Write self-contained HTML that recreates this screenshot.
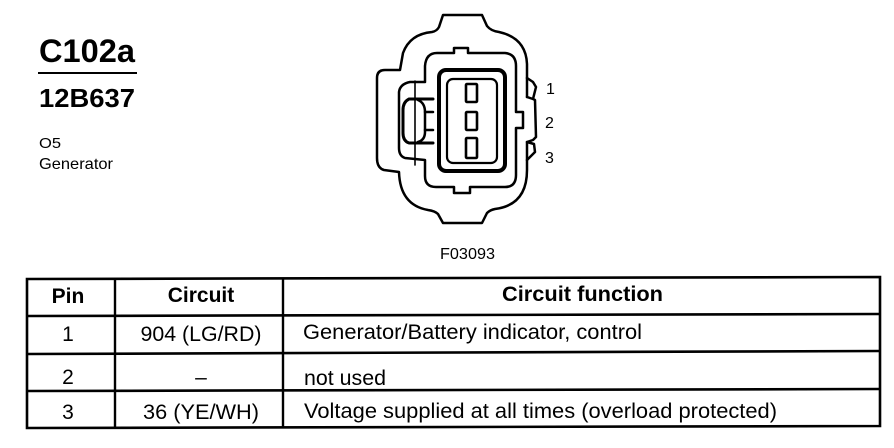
<!DOCTYPE html>
<html>
<head>
<meta charset="utf-8">
<style>
html,body{margin:0;padding:0;background:#fff;}
svg{display:block;}
text{font-family:"Liberation Sans",sans-serif;fill:#000;}
.b{font-weight:bold;}
</style>
</head>
<body>
<svg width="894" height="448" viewBox="0 0 894 448" xmlns="http://www.w3.org/2000/svg">
<rect width="894" height="448" fill="#fff"/>
<text x="39" y="62" class="b" font-size="32" textLength="96" lengthAdjust="spacingAndGlyphs">C102a</text>
<rect x="38" y="72" width="99" height="2" fill="#000"/>
<text x="39" y="107" class="b" font-size="26" textLength="96" lengthAdjust="spacingAndGlyphs">12B637</text>
<text x="39" y="148" font-size="15" textLength="22" lengthAdjust="spacingAndGlyphs">O5</text>
<text x="39" y="169" font-size="16" textLength="74" lengthAdjust="spacingAndGlyphs">Generator</text>

<g fill="none" stroke="#000" stroke-width="2.5" stroke-linejoin="round" stroke-linecap="round">
<path d="M527 142 L527 170 Q527 205 495 209 Q490 210 487 213 L482 223 L443 223 L438 214 Q435 211 428 210 Q400 205 399 172 L384 170 Q377 168 377 158 L377 78 Q377 70 385 70 L400 70 L403 53 Q410 34 432 32 Q437 31 439 27 L443 15 L482 15 L487 26 Q491 31 499 32 Q526 38 527 64 L527 97"/>
<path d="M527 78 L533 82 L536 87 L533 99 L527 97 M533 99 L535 100 L536 137 L533 140 L527 142 L534 144 L535 152 L527 160"/>
<path d="M454 53 L454 48 L468 48 L468 53 L505 53 Q516 54 516 66 L516 112 L523 112 L523 128 L516 128 L516 175 Q516 187 505 187 L470 187 L470 193 L454 193 L454 187 L436 187 Q425 187 425 176 L425 160 L405 158 Q399 156 399 148 L399 92 Q400 84 410 82 L425 82 L425 66 Q426 53 437 53 Z"/>
<path d="M415 81 L415 165" stroke-width="1.6"/>
<path d="M433 99 L409 99 Q403 102 403 110 L403 133 Q403 141 409 143 L433 143" stroke-width="3"/>
<path d="M418 100 Q425 103 425 112 L425 132 Q425 140 418 142"/>
<path d="M425 112 L433 112 M425 130 L433 130"/>
<rect x="439" y="70" width="66" height="101" rx="7" stroke-width="4"/>
<rect x="447" y="79" width="50" height="84" rx="6" stroke-width="2.2"/>
<rect x="466" y="84" width="11" height="18" rx="1" stroke-width="2.6"/>
<rect x="466" y="112" width="11" height="18" rx="1" stroke-width="2.6"/>
<rect x="466" y="138" width="11" height="20" rx="1" stroke-width="2.6"/>
</g>
<text x="546" y="94" font-size="16">1</text>
<text x="545" y="128" font-size="16">2</text>
<text x="545" y="163" font-size="16">3</text>
<text x="440" y="259" font-size="16" textLength="55" lengthAdjust="spacingAndGlyphs">F03093</text>

<g stroke="#000" fill="none">
<path d="M27 279 L880 277 L880 426 L27 428 Z" stroke-width="2.6"/>
<path d="M27 316 L880 314" stroke-width="2.6"/>
<path d="M27 354 L880 351" stroke-width="2.6"/>
<path d="M27 391 L880 389" stroke-width="2.6"/>
<path d="M115 279 L115 428" stroke-width="2.4"/>
<path d="M283 279 L283 428" stroke-width="2.4"/>
</g>
<text x="68" y="303" class="b" font-size="21" text-anchor="middle">Pin</text>
<text x="201" y="302" class="b" font-size="21" text-anchor="middle">Circuit</text>
<text x="502" y="301" class="b" font-size="21" textLength="161" lengthAdjust="spacingAndGlyphs">Circuit function</text>
<text x="68" y="341" font-size="21" text-anchor="middle">1</text>
<text x="201" y="341" font-size="21" text-anchor="middle" textLength="121" lengthAdjust="spacingAndGlyphs">904 (LG/RD)</text>
<text x="303" y="339" font-size="21" textLength="339" lengthAdjust="spacingAndGlyphs">Generator/Battery indicator, control</text>
<text x="68" y="384" font-size="21" text-anchor="middle">2</text>
<text x="201" y="384" font-size="21" text-anchor="middle">–</text>
<text x="304" y="385" font-size="21" textLength="82" lengthAdjust="spacingAndGlyphs">not used</text>
<text x="68" y="419" font-size="21" text-anchor="middle">3</text>
<text x="201" y="419" font-size="21" text-anchor="middle" textLength="116" lengthAdjust="spacingAndGlyphs">36 (YE/WH)</text>
<text x="304" y="418" font-size="21" textLength="473" lengthAdjust="spacingAndGlyphs">Voltage supplied at all times (overload protected)</text>
</svg>
</body>
</html>
